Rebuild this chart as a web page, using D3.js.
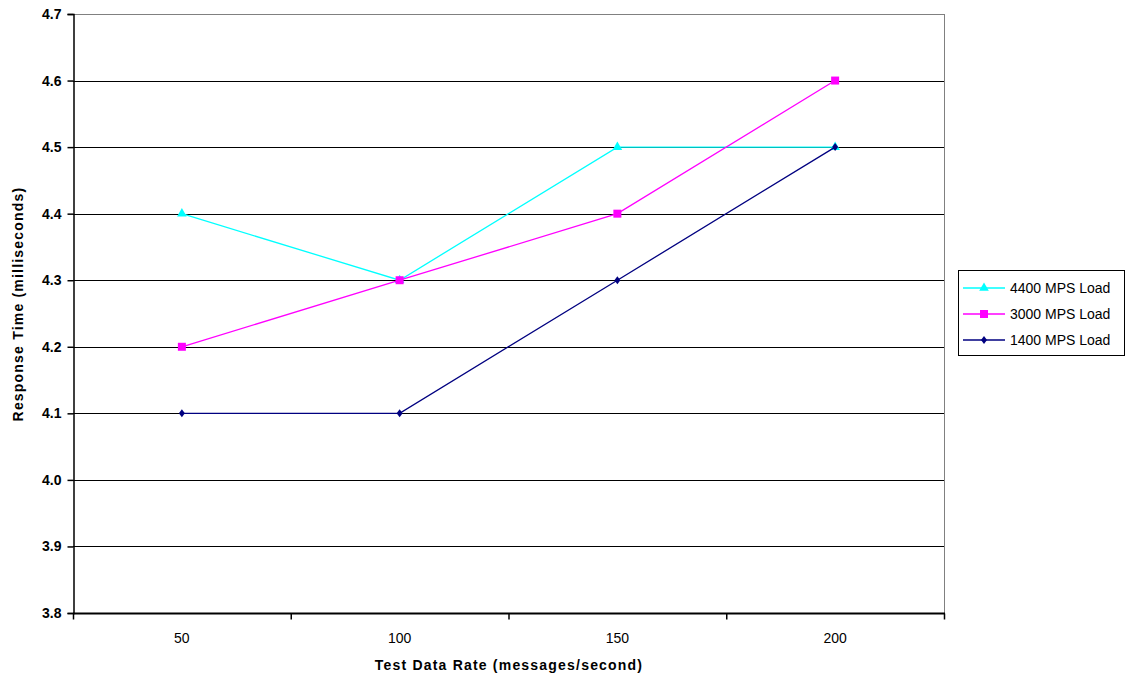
<!DOCTYPE html>
<html>
<head>
<meta charset="utf-8">
<script src="https://cdn.jsdelivr.net/npm/d3@7"></script>
<style>
  body { margin: 0; background: #fff; }
  svg { display: block; font-family: "Liberation Sans", Arial, sans-serif; }
</style>
</head>
<body>
<script>
// data
var rates = ["50", "100", "150", "200"];
var load4400 = [4.4, 4.3, 4.5, 4.5];
var load3000 = [4.2, 4.3, 4.4, 4.6];
var load1400 = [4.1, 4.1, 4.3, 4.5];
var yTicks = [3.8, 3.9, 4.0, 4.1, 4.2, 4.3, 4.4, 4.5, 4.6, 4.7];
var seriesNames = ["4400 MPS Load", "3000 MPS Load", "1400 MPS Load"];

var series = [
  { name: seriesNames[0], values: load4400, color: "#00ffff", marker: "triangle" },
  { name: seriesNames[1], values: load3000, color: "#ff00ff", marker: "square" },
  { name: seriesNames[2], values: load1400, color: "#000080", marker: "diamond" }
];

var W = 1127, H = 679;
// plot area edges (not "top", that one belongs to window)
var pLeft = 73, pRight = 944, pTop = 14, pBottom = 613;

var svg = d3.select("body").append("svg")
  .attr("width", W)
  .attr("height", H);

var x = d3.scaleBand().domain(rates).range([pLeft, pRight]);
var y = d3.scaleLinear().domain([3.8, 4.7]).range([pBottom, pTop]);

// gridlines
svg.append("g").selectAll("line")
  .data(yTicks.filter(function(d) { return d > 3.8; }))
  .enter().append("line")
  .attr("x1", pLeft).attr("x2", pRight)
  .attr("y1", function(d) { return Math.round(y(d)) + 0.5; })
  .attr("y2", function(d) { return Math.round(y(d)) + 0.5; })
  .attr("stroke", function(d) { return d >= 4.65 ? "#808080" : "#000"; })
  .attr("stroke-width", 1);

// right border of plot area
svg.append("line")
  .attr("x1", pRight + 0.5).attr("x2", pRight + 0.5)
  .attr("y1", pTop).attr("y2", pBottom)
  .attr("stroke", "#808080");

// y axis
var yAxis = svg.append("g")
  .attr("transform", "translate(" + (pLeft + 0.5) + ",0)")
  .call(d3.axisLeft(y).tickValues(yTicks).tickFormat(d3.format(".1f")).tickSize(6).tickPadding(6));
yAxis.select(".domain").attr("stroke", "#000").attr("stroke-width", 1.5);
yAxis.selectAll(".tick line").attr("stroke", "#000").attr("stroke-width", 1.5);
yAxis.selectAll(".tick text")
  .attr("font-size", 14).attr("font-weight", "bold")
  .attr("font-family", "Liberation Sans, Arial, sans-serif").attr("fill", "#000");

// x axis, ticks between categories
var xAxisG = svg.append("g")
  .attr("transform", "translate(0," + (pBottom + 0.5) + ")");
xAxisG.append("line")
  .attr("x1", pLeft).attr("x2", pRight + 1)
  .attr("stroke", "#000").attr("stroke-width", 2);
var bounds = rates.map(function(d) { return x(d); }).concat([pRight]);
xAxisG.selectAll(".tk").data(bounds).enter().append("line")
  .attr("x1", function(d) { return d + 0.5; }).attr("x2", function(d) { return d + 0.5; })
  .attr("y1", 0).attr("y2", 6)
  .attr("stroke", "#000").attr("stroke-width", 1.5);
xAxisG.selectAll("text").data(rates).enter().append("text")
  .attr("x", function(d) { return x(d) + x.bandwidth() / 2; })
  .attr("y", 29)
  .attr("text-anchor", "middle")
  .attr("font-size", 14)
  .text(function(d) { return d; });

// axis titles
svg.append("text")
  .attr("x", 509).attr("y", 670)
  .attr("text-anchor", "middle")
  .attr("font-size", 14).attr("font-weight", "bold")
  .attr("letter-spacing", 1.2)
  .text("Test Data Rate (messages/second)");
svg.append("text")
  .attr("transform", "translate(23,304) rotate(-90)")
  .attr("text-anchor", "middle")
  .attr("font-size", 14).attr("font-weight", "bold")
  .attr("letter-spacing", 1.2)
  .text("Response Time (milliseconds)");

function markerPath(type) {
  if (type === "triangle") return d3.symbol(d3.symbolTriangle, 40)();
  if (type === "square") return "M-4,-4H4V4H-4Z";
  return "M0,-4L3,0L0,4L-3,0Z";
}

var line = d3.line()
  .x(function(d, i) { return x(rates[i]) + x.bandwidth() / 2; })
  .y(function(d) { return y(d); });

series.forEach(function(s) {
  var g = svg.append("g");
  g.append("path")
    .attr("d", line(s.values))
    .attr("fill", "none")
    .attr("stroke", s.color)
    .attr("stroke-width", 1.3);
  g.selectAll("path.m").data(s.values).enter().append("path")
    .attr("class", "m")
    .attr("d", markerPath(s.marker))
    .attr("transform", function(d, i) {
      return "translate(" + (x(rates[i]) + x.bandwidth() / 2) + "," + y(d) + ")";
    })
    .attr("fill", s.color);
});

// legend
var lg = svg.append("g").attr("transform", "translate(958,270)");
lg.append("rect")
  .attr("x", 0.5).attr("y", 0.5)
  .attr("width", 166).attr("height", 85)
  .attr("fill", "#fff").attr("stroke", "#000").attr("stroke-width", 1);
series.forEach(function(s, i) {
  var cy = 18 + i * 26;
  lg.append("line")
    .attr("x1", 5).attr("x2", 47)
    .attr("y1", cy).attr("y2", cy)
    .attr("stroke", s.color).attr("stroke-width", 1.3);
  lg.append("path")
    .attr("d", markerPath(s.marker))
    .attr("transform", "translate(26," + cy + ")")
    .attr("fill", s.color);
  lg.append("text")
    .attr("x", 52).attr("y", cy + 5)
    .attr("font-size", 14)
    .text(s.name);
});
</script>
</body>
</html>
